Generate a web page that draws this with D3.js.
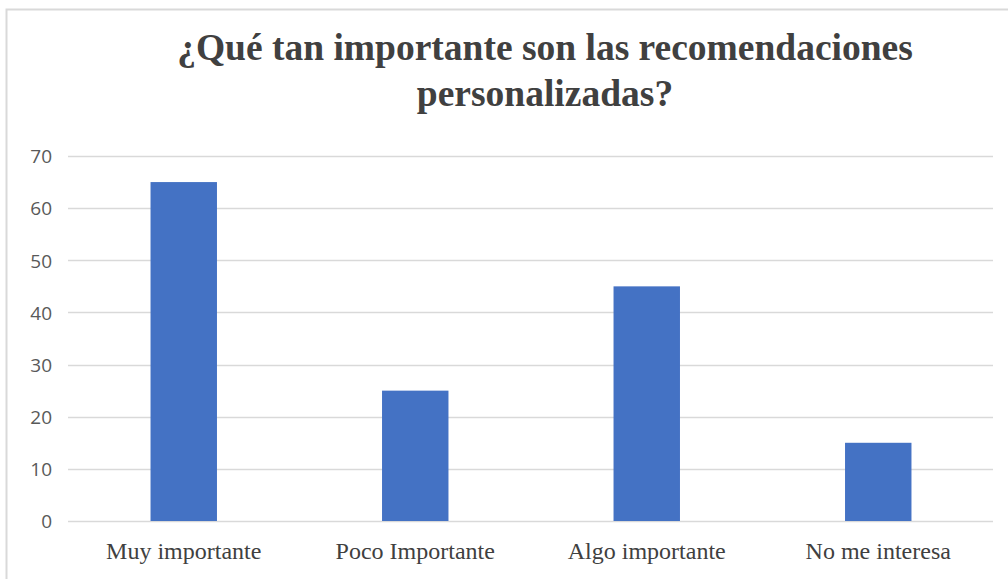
<!DOCTYPE html>
<html>
<head>
<meta charset="utf-8">
<script src="https://cdn.jsdelivr.net/npm/d3@7"></script>
<style>
  html, body { margin: 0; padding: 0; background: #fff; }
  svg { display: block; }
</style>
</head>
<body>
<svg id="chart" width="1008" height="579"></svg>
<script>
// Survey responses: how important are personalised recommendations
const categories = ["Muy importante", "Poco Importante", "Algo importante", "No me interesa"];
const values = [65, 25, 45, 15];
const yTicks = [0, 10, 20, 30, 40, 50, 60, 70];
const titleLines = ["¿Qué tan importante son las recomendaciones", "personalizadas?"];

const svg = d3.select("#chart");
const W = 1008, H = 579;
const margin = { left: 68, right: 14, top: 156, bottom: 58 };

// chart frame (top and left edges visible)
svg.append("path")
  .attr("d", `M6.5,${H} V9.5 H${W}`)
  .attr("fill", "none")
  .attr("stroke", "#d9d9d9")
  .attr("stroke-width", 2);

const x = d3.scaleBand()
  .domain(categories)
  .range([margin.left, W - margin.right])
  .paddingInner(0.713)
  .paddingOuter(0.3565);

const y = d3.scaleLinear()
  .domain([0, 70])
  .range([H - margin.bottom, margin.top]);

// gridlines
svg.append("g")
  .selectAll("line")
  .data(yTicks)
  .join("line")
  .attr("x1", margin.left)
  .attr("x2", W - margin.right - 1)
  .attr("y1", d => Math.round(y(d)) + 0.5)
  .attr("y2", d => Math.round(y(d)) + 0.5)
  .attr("stroke", "#d9d9d9")
  .attr("stroke-width", 1.5);

// y-axis labels
const yAxis = svg.append("g")
  .attr("transform", `translate(${margin.left - 16},0)`)
  .call(d3.axisLeft(y).tickValues(yTicks).tickSize(0).tickPadding(0));
yAxis.select(".domain").remove();
yAxis.selectAll("text")
  .attr("font-family", "'Open Sans', 'Noto Sans', sans-serif")
  .attr("font-size", 19)
  .attr("fill", "#595959")
  .attr("dy", "0.36em");

// bars
svg.append("g")
  .selectAll("rect")
  .data(categories.map((c, i) => ({ c, v: values[i] })))
  .join("rect")
  .attr("x", d => x(d.c))
  .attr("width", x.bandwidth())
  .attr("y", d => y(d.v))
  .attr("height", d => y(0) - y(d.v))
  .attr("fill", "#4472c4");

// category labels
const xAxis = svg.append("g")
  .attr("transform", `translate(0,${y(0)})`)
  .call(d3.axisBottom(x).tickSize(0).tickPadding(0));
xAxis.select(".domain").remove();
xAxis.selectAll("text")
  .attr("font-family", "'Liberation Serif', 'Times New Roman', serif")
  .attr("font-size", 24)
  .attr("fill", "#404040")
  .attr("dy", null)
  .attr("y", 38);

// title
svg.append("g")
  .selectAll("text")
  .data(titleLines)
  .join("text")
  .attr("x", 545)
  .attr("y", (d, i) => 60 + i * 46)
  .attr("text-anchor", "middle")
  .attr("font-family", "'Liberation Serif', 'Times New Roman', serif")
  .attr("font-weight", "bold")
  .attr("font-size", 37.5)
  .attr("fill", "#404040")
  .text(d => d);
</script>
</body>
</html>
